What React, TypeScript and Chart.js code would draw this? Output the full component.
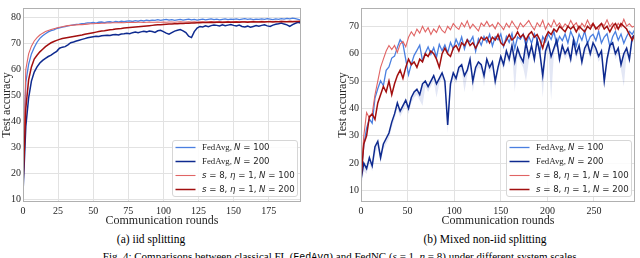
import React, { useEffect, useRef } from 'react';
import { Chart, registerables } from 'chart.js';

Chart.register(...registerables);

// ---------- tick labels ----------
const LEFT_X_TICKS = [0, 25, 50, 75, 100, 125, 150, 175];
const LEFT_Y_TICKS = [10, 20, 30, 40, 50, 60, 70, 80];
const RIGHT_X_TICKS = [0, 50, 100, 150, 200, 250];
const RIGHT_Y_TICKS = [10, 20, 30, 40, 50, 60, 70];

// ---------- rounds (x categories) ----------
const LEFT_ROUND_STEP = 2;
const RIGHT_ROUND_STEP = 3;

// ---------- (a) iid splitting : values every 2 rounds (0..198) ----------
const LEFT_FEDAVG_100 = [
  20, 55, 62, 66, 68.5, 70.5, 72, 73, 73.8, 74.5,
  75, 75.3, 75.8, 76, 76.3, 76.5, 76.8, 77, 77.2, 77.4,
  77.5, 77.7, 77.8, 78, 78, 78.1, 77.9, 78.2, 78.3, 78.1,
  78.3, 78.4, 78.2, 78.5, 78.3, 78.6, 78.4, 78.6, 78.7, 78.5,
  78.8, 78.6, 78.9, 78.7, 79, 78.8, 79, 78.9, 79.2, 78.9,
  79.1, 79.3, 79, 79.2, 78.9, 79.1, 79.3, 79, 79.2, 79.4,
  79.1, 79.3, 79, 79.2, 79.4, 79.1, 79.3, 79.5, 79.2, 79.4,
  79.1, 79.3, 79.5, 79.2, 79.4, 79.3, 79.5, 79.2, 79.4, 79.6,
  79.3, 79.5, 79.2, 79.4, 79.3, 79.5, 79.3, 79.6, 79.4, 79.2,
  79.5, 79.3, 79.6, 79.4, 79.7, 79.5, 79.8, 79.6, 79.3, 79.0,
];
const LEFT_FEDAVG_200 = [
  12.4, 38, 49, 55.5, 59, 61, 62.5, 63.5, 64.3, 65,
  65.5, 66.3, 67, 68.2, 68.6, 68.8, 69.5, 70.3, 70.6, 71,
  71.3, 71.6, 71.9, 72.2, 72.4, 72.6, 72.8, 72.7, 73, 73.1,
  73.2, 73.1, 73.4, 73.5, 73.3, 73.7, 73.8, 74, 73.8, 74.2,
  74.4, 74.2, 74.5, 74.7, 74.5, 74.8, 74.6, 74.3, 74.9, 75.1,
  74.6, 74, 73.6, 74.2, 74.8, 75.1, 75.4, 74.9, 74.2, 72.8,
  72.3, 74.6, 76, 76.6, 76.4, 76.8, 76.5, 76.9, 77.1, 77,
  76.8, 77.2, 76.9, 77.1, 77.3, 77, 76.8, 77.1, 76.6, 76.4,
  76.7, 76.3, 76.6, 76.9, 76.7, 77, 77.2, 76.8, 76.6, 77.1,
  77.4, 77.6, 77.9, 77.5, 77.2, 76.6, 77.3, 77.8, 78.2, 77.8,
];
const LEFT_S8_100 = [
  17, 60, 66, 69, 71, 72.3, 73.3, 74, 74.6, 75,
  75.4, 75.7, 76, 76.3, 76.5, 76.7, 76.9, 77, 77.1, 77.2,
  77.3, 77.3, 77.4, 77.5, 77.6, 77.6, 77.7, 77.7, 77.8, 77.8,
  77.9, 77.9, 78, 78, 78, 78.1, 78, 78.1, 78.1, 78.2,
  78.1, 78.2, 78.2, 78.1, 78.2, 78.3, 78.2, 78.2, 78.3, 78.2,
  78.3, 78.2, 78.3, 78.3, 78.2, 78.3, 78.4, 78.3, 78.3, 78.4,
  78.3, 78.4, 78.3, 78.4, 78.4, 78.3, 78.4, 78.5, 78.4, 78.4,
  78.5, 78.4, 78.4, 78.5, 78.4, 78.5, 78.5, 78.4, 78.5, 78.5,
  78.4, 78.5, 78.6, 78.5, 78.5, 78.6, 78.5, 78.5, 78.6, 78.5,
  78.6, 78.5, 78.6, 78.6, 78.5, 78.6, 78.6, 78.5, 78.6, 78.6,
];
const LEFT_S8_200 = [
  15, 45, 56, 61, 64, 65.5, 66.8, 67.8, 68.8, 69.6,
  70.3, 70.8, 71.2, 71.6, 71.9, 72.1, 72.3, 72.5, 72.7, 72.9,
  73.1, 73.3, 73.6, 73.8, 74, 74.2, 74.4, 74.6, 74.8, 74.9,
  75.1, 75.3, 75.4, 75.6, 75.7, 75.8, 76, 76.1, 76.2, 76.3,
  76.4, 76.5, 76.6, 76.7, 76.8, 76.9, 77, 77.1, 77.2, 77.2,
  77.3, 77.4, 77.5, 77.5, 77.6, 77.6, 77.7, 77.7, 77.8, 77.8,
  77.9, 77.9, 78, 78, 78.1, 78.1, 78.1, 78.2, 78.1, 78.2,
  78.2, 78.1, 78.2, 78.3, 78.2, 78.2, 78.3, 78.2, 78.3, 78.3,
  78.2, 78.3, 78.4, 78.3, 78.3, 78.4, 78.3, 78.4, 78.4, 78.3,
  78.4, 78.4, 78.5, 78.4, 78.4, 78.5, 78.4, 78.5, 78.5, 78.6,
];

// ---------- (b) mixed non-iid : values every 3 rounds (0..294) ----------
const RIGHT_FEDAVG_100 = [
  15.2, 26.5, 32.8, 36.1, 34.6, 43.8, 47.2, 50.1, 48.3, 53.9,
  55.2, 58.4, 59.1, 62.3, 65.1, 63.6, 57.9, 52.3, 56.2, 59.4,
  61.2, 63.1, 57.4, 60.3, 62.5, 59.8, 62.2, 58.7, 63.4, 61.1,
  63.2, 60.4, 64.1, 61.8, 65.3, 62.9, 66.1, 61.7, 65.2, 64.3,
  66.2, 60.9, 65.4, 63.1, 66.3, 64.2, 67.1, 62.8, 66.2, 65.1,
  67.2, 62.6, 66.3, 64.1, 67.4, 61.8, 66.1, 65.3, 67.2, 62.9,
  66.4, 63.8, 67.3, 65.1, 60.8, 66.2, 64.3, 67.1, 65.2, 68.1,
  63.2, 66.3, 64.8, 67.2, 63.9, 68.2, 65.7, 62.8, 67.1, 64.9,
  68.3, 63.7, 66.2, 67.1, 64.8, 68.2, 63.9, 66.1, 67.3, 62.7,
  66.2, 68.1, 64.9, 67.2, 63.8, 66.3, 68.2, 67.1, 69.0,
];
const RIGHT_FEDAVG_200 = [
  14, 20, 18, 22, 19, 26, 28, 22, 27, 29,
  31, 35, 38, 42, 39, 41, 43, 40, 44, 46,
  47, 45, 49, 50, 48, 50, 52, 49, 51, 53,
  50, 34, 49, 53, 51, 55, 56, 52, 54, 58,
  50, 55, 57, 56, 52, 58, 55, 57, 50, 55,
  59, 56, 61, 58, 63, 57, 62, 59, 57, 64,
  59, 63, 58, 65, 60, 52, 61, 64, 59, 62,
  65, 58, 63, 60, 62, 58, 65, 60, 63, 57,
  62, 64, 60, 64, 62, 59, 61, 50, 58, 63,
  64, 60, 62, 56, 60, 62, 58, 66, 67,
];
const RIGHT_FEDAVG_200_LOW = [
  11, 17, 16, 20, 17, 23, 26, 20, 25, 27,
  29, 33, 36, 40, 37, 39, 41, 38, 42, 44,
  45, 43, 41, 48, 46, 48, 50, 44, 49, 51,
  48, 31, 46, 51, 49, 53, 54, 46, 52, 56,
  46, 53, 55, 54, 48, 56, 53, 55, 47, 53,
  57, 54, 59, 56, 61, 46, 60, 57, 55, 50,
  57, 61, 56, 63, 58, 44, 59, 62, 43, 60,
  63, 56, 61, 58, 60, 56, 63, 58, 61, 55,
  60, 62, 58, 62, 60, 57, 59, 48, 56, 61,
  62, 58, 60, 54, 48, 60, 56, 64, 65,
];
const RIGHT_S8_100 = [
  15, 30, 38.5, 36.5, 38, 45, 50, 55, 58, 61,
  63, 61.5, 63, 60.5, 63.5, 64.5, 62.5, 66, 68, 66.5,
  69, 67.5, 70, 68, 69.5, 67, 69, 67.8, 70.2, 68.5,
  67.6, 70, 68.8, 71, 69.7, 68.9, 71.3, 69.8, 72, 69.2,
  70.8, 69.5, 68.3, 71.2, 70.1, 71.8, 69.9, 70.7, 69.1, 71.4,
  70.2, 68.8, 71.1, 69.6, 71.9, 70.3, 68.9, 71.2, 69.8, 70.9,
  72.1, 70.2, 68.7, 71.3, 69.9, 72.2, 68.9, 71.1, 69.7, 72.3,
  70.1, 71.2, 69.3, 70.9, 69.8, 72.1, 70.2, 71.3, 68.9, 71.1,
  69.8, 72.3, 70.1, 71.2, 69.6, 68.8, 71.1, 70.2, 72.4, 69.9,
  71.2, 68.9, 71.1, 69.8, 72.6, 70.1, 70.9, 69.7, 70.2,
];
const RIGHT_S8_200 = [
  14, 27, 30, 37, 38, 36, 42, 45, 48, 46,
  50, 45, 49, 52, 54, 51, 55, 58, 56, 57,
  55, 58, 57, 60, 59, 61, 60, 58, 55, 60,
  62, 60, 59, 62, 63, 61, 64, 63, 65, 63,
  64, 62, 64, 66, 65, 66, 64, 66, 65, 67,
  64, 63, 65, 67, 65, 66, 68, 66, 67, 65,
  67, 68, 66, 67, 65, 62, 66, 68, 67, 69,
  68, 70, 69, 68, 70, 69, 70, 68, 70, 69,
  68, 70, 69, 71, 69, 70, 71, 69, 70, 68,
  70, 71, 69, 71, 70, 69, 67, 65, 67,
];

// ---------- labels ----------
const X_TITLE = 'Communication rounds';
const Y_TITLE = 'Test accuracy';
const CAPTION_A = '(a) iid splitting';
const CAPTION_B = '(b) Mixed non-iid splitting';

const COLORS = ['#4a7fe0', '#0e2a8f', '#e06464', '#a20f0f'];
const WIDTHS = [1.3, 1.5, 1.1, 1.5];

type Seg = { t: string; f: string };
const SERIF = 'Liberation Serif';
const SANS = 'DejaVu Sans';
const LF = 8.6;
const serifF = `${LF + 0.2}px "${SERIF}"`;
const sansF = `${LF}px "${SANS}"`;
const italF = `italic ${LF}px "${SANS}"`;
const LEGEND_ENTRIES: Seg[][] = [
  [{ t: 'FedAvg, ', f: serifF }, { t: 'N', f: italF }, { t: ' = 100', f: sansF }],
  [{ t: 'FedAvg, ', f: serifF }, { t: 'N', f: italF }, { t: ' = 200', f: sansF }],
  [{ t: 's', f: italF }, { t: ' = 8, ', f: sansF }, { t: 'η', f: italF }, { t: ' = 1, ', f: sansF }, { t: 'N', f: italF }, { t: ' = 100', f: sansF }],
  [{ t: 's', f: italF }, { t: ' = 8, ', f: sansF }, { t: 'η', f: italF }, { t: ' = 1, ', f: sansF }, { t: 'N', f: italF }, { t: ' = 200', f: sansF }],
];

const TEXT_COLOR = '#262626';

const framePlugin = {
  id: 'frameAndLegend',
  afterDraw(chart: any) {
    const { ctx, chartArea } = chart;
    ctx.save();
    // frame
    ctx.strokeStyle = '#b0b0b0';
    ctx.lineWidth = 1;
    const l = Math.round(chartArea.left) + 0.5;
    const t = Math.round(chartArea.top) + 0.5;
    const r = Math.round(chartArea.right) - 0.5;
    const b = Math.round(chartArea.bottom) - 0.5;
    ctx.strokeRect(l, t, r - l, b - t);
    // legend
    const w = 125;
    const h = 56;
    const bx = Math.round(chartArea.right) - 4 - w;
    const by = Math.round(chartArea.bottom) - 6 - h;
    ctx.globalAlpha = 0.85;
    ctx.fillStyle = '#ffffff';
    ctx.beginPath();
    (ctx as any).roundRect(bx + 0.5, by + 0.5, w, h, 2.5);
    ctx.fill();
    ctx.globalAlpha = 1;
    ctx.strokeStyle = '#d6d6d6';
    ctx.stroke();
    LEGEND_ENTRIES.forEach((segs, i) => {
      const cy = by + 7.5 + i * 14;
      ctx.strokeStyle = COLORS[i];
      ctx.lineWidth = WIDTHS[i];
      ctx.beginPath();
      ctx.moveTo(bx + 3.5, cy);
      ctx.lineTo(bx + 23.5, cy);
      ctx.stroke();
      let tx = bx + 30;
      ctx.fillStyle = TEXT_COLOR;
      ctx.textBaseline = 'middle';
      ctx.textAlign = 'left';
      segs.forEach((s) => {
        ctx.font = s.f;
        ctx.fillText(s.t, tx, cy + 0.5);
        tx += ctx.measureText(s.t).width;
      });
    });
    ctx.restore();
  },
};

type PlotCfg = {
  step: number;
  series: number[][];
  low?: number[];
  xMax: number;
  yMin: number;
  yMax: number;
  xTicks: number[];
  yTicks: number[];
  yAxisWidth: number;
  padRight: number;
  yTitlePad: number;
};

const CANVAS_H = 228;
const X_AXIS_H = 26;

function Plot({ cfg, left, width }: { cfg: PlotCfg; left: number; width: number }) {
  const ref = useRef<HTMLCanvasElement | null>(null);
  useEffect(() => {
    if (!ref.current) return;
    const rounds = cfg.series[0].map((_, i) => i * cfg.step);
    const toPts = (vals: number[]) => vals.map((v, i) => ({ x: rounds[i], y: v }));
    const datasets: any[] = cfg.series.map((vals, i) => ({
      data: toPts(vals),
      borderColor: COLORS[i],
      borderWidth: WIDTHS[i],
      pointRadius: 0,
      fill: false,
      order: 4 - i,
    }));
    if (cfg.low) {
      datasets.push({
        data: toPts(cfg.low),
        borderWidth: 0,
        borderColor: 'rgba(0,0,0,0)',
        backgroundColor: 'rgba(40,70,180,0.13)',
        pointRadius: 0,
        fill: 1,
        order: 6,
      });
    }
    const tickFont = { family: SERIF, size: 10 };
    const titleFont = { family: SERIF, size: 12 };
    const chart = new Chart(ref.current, {
      type: 'line',
      data: { datasets },
      options: {
        responsive: false,
        maintainAspectRatio: false,
        animation: false,
        events: [],
        layout: { padding: { top: 1, right: cfg.padRight, left: 0, bottom: 0 } },
        plugins: { legend: { display: false }, tooltip: { enabled: false } },
        elements: { line: { tension: 0 }, point: { radius: 0 } },
        scales: {
          x: {
            type: 'linear',
            min: 0,
            max: cfg.xMax,
            afterBuildTicks: (s: any) => {
              s.ticks = cfg.xTicks.map((v) => ({ value: v }));
            },
            afterFit: (s: any) => {
              s.height = X_AXIS_H;
            },
            grid: { color: '#e2e2e2', drawTicks: false, lineWidth: 1 },
            border: { display: false },
            ticks: { font: tickFont, color: TEXT_COLOR, padding: 3, autoSkip: false, maxRotation: 0 },
            title: { display: true, text: X_TITLE, font: titleFont, color: TEXT_COLOR, padding: 0 },
          },
          y: {
            type: 'linear',
            min: cfg.yMin,
            max: cfg.yMax,
            afterBuildTicks: (s: any) => {
              s.ticks = cfg.yTicks.map((v) => ({ value: v }));
            },
            afterFit: (s: any) => {
              s.width = cfg.yAxisWidth;
            },
            grid: { color: '#e2e2e2', drawTicks: false, lineWidth: 1 },
            border: { display: false },
            ticks: { font: tickFont, color: TEXT_COLOR, padding: 2 },
            title: { display: true, text: Y_TITLE, font: titleFont, color: TEXT_COLOR, padding: { top: cfg.yTitlePad, bottom: 0 } },
          },
        },
      } as any,
      plugins: [framePlugin],
    });
    return () => chart.destroy();
  }, []);
  return (
    <canvas
      ref={ref}
      width={width}
      height={CANVAS_H}
      style={{ position: 'absolute', left, top: 0, width, height: CANVAS_H }}
    />
  );
}

const leftCfg: PlotCfg = {
  step: LEFT_ROUND_STEP,
  series: [LEFT_FEDAVG_100, LEFT_FEDAVG_200, LEFT_S8_100, LEFT_S8_200],
  xMax: 198,
  yMin: 8.9,
  yMax: 83.7,
  xTicks: LEFT_X_TICKS,
  yTicks: LEFT_Y_TICKS,
  yAxisWidth: 23,
  padRight: 4,
  yTitlePad: 0,
};

const rightCfg: PlotCfg = {
  step: RIGHT_ROUND_STEP,
  series: [RIGHT_FEDAVG_100, RIGHT_FEDAVG_200, RIGHT_S8_100, RIGHT_S8_200],
  low: RIGHT_FEDAVG_200_LOW,
  xMax: 294,
  yMin: 5.8,
  yMax: 76.7,
  xTicks: RIGHT_X_TICKS,
  yTicks: RIGHT_Y_TICKS,
  yAxisWidth: 31,
  padRight: 5,
  yTitlePad: 6,
};

export default function App() {
  const cap: React.CSSProperties = {
    position: 'absolute',
    whiteSpace: 'nowrap',
    fontFamily: `"${SERIF}", serif`,
    fontSize: '11.5px',
    lineHeight: '13px',
    color: '#000',
    transform: 'translateX(-50%)',
  };
  return (
    <div
      style={{
        position: 'fixed',
        left: 0,
        top: 0,
        width: 640,
        height: 258,
        overflow: 'hidden',
        background: '#fff',
      }}
    >
      <Plot cfg={leftCfg} left={0} width={305} />
      <Plot cfg={rightCfg} left={330} width={310} />
      <div style={{ ...cap, left: 151, top: 233 }}>{CAPTION_A}</div>
      <div style={{ ...cap, left: 485, top: 233 }}>{CAPTION_B}</div>
      <div style={{ ...cap, left: 341, top: 250, fontSize: '11px' }}>
        Fig. 4: Comparisons between classical FL (
        <span style={{ fontFamily: '"Liberation Mono", monospace', fontSize: '10px' }}>FedAvg</span>) and FedNC (
        <i>s</i> = 1, <i>η</i> = 8) under different system scales.
      </div>
    </div>
  );
}
